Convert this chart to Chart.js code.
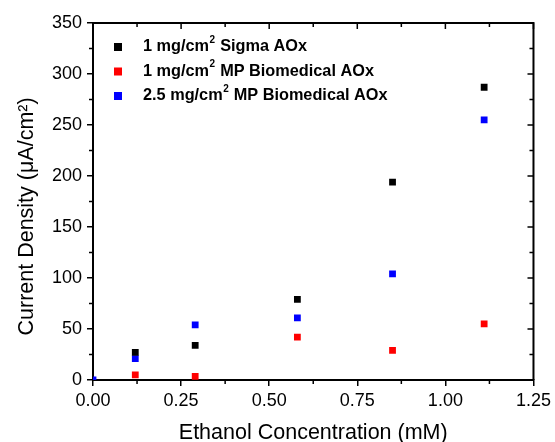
<!DOCTYPE html>
<html>
<head>
<meta charset="utf-8">
<script src="https://cdn.jsdelivr.net/npm/chart.js@4/dist/chart.umd.min.js"></script>
<style>
  html, body { margin: 0; padding: 0; background: #fff; }
  #wrap { width: 555px; height: 442px; }
</style>
</head>
<body>
<div id="wrap"><canvas id="chart"></canvas></div>
<script>
var concentrations = [0, 0.12, 0.29, 0.58, 0.85, 1.11];
var sigmaAOx = [null, 27, 34, 79, 194, 287];
var mpAOx1 = [null, 5, 3.5, 42, 29, 55];
var mpAOx25 = [0, 21, 54, 61, 104, 255];
var seriesLabels = ["1 mg/cm² Sigma AOx", "1 mg/cm² MP Biomedical AOx", "2.5 mg/cm² MP Biomedical AOx"];
var seriesColors = ["#000000", "#ff0000", "#0000ff"];
var xTicks = [0, 0.25, 0.5, 0.75, 1, 1.25];
var yTicks = [0, 50, 100, 150, 200, 250, 300, 350];

var FONT = "'Liberation Sans', Arial, sans-serif";

function toPoints(values) {
    var pts = [];
    values.forEach(function (v, i) {
        if (v !== null) pts.push({ x: concentrations[i], y: v });
    });
    return pts;
}

// minor ticks + mirrored top/right axes
var framePlugin = {
    id: "frame",
    afterDraw: function (chart) {
        var ctx = chart.ctx, a = chart.chartArea;
        var xs = chart.scales.x, ys = chart.scales.y;
        ctx.save();
        ctx.strokeStyle = "#000";
        ctx.lineWidth = 2;
        ctx.beginPath();
        ctx.moveTo(a.left, a.top); ctx.lineTo(a.right, a.top); ctx.lineTo(a.right, a.bottom);
        ctx.stroke();
        ctx.lineWidth = 1.5;
        ctx.beginPath();
        for (var i = 0; i < xTicks.length; i++) {
            var px = xs.getPixelForValue(xTicks[i]);
            ctx.moveTo(px, a.top); ctx.lineTo(px, a.top + 6);
            if (i < xTicks.length - 1) {
                var mx = xs.getPixelForValue((xTicks[i] + xTicks[i + 1]) / 2);
                ctx.moveTo(mx, a.bottom); ctx.lineTo(mx, a.bottom + 4);
                ctx.moveTo(mx, a.top); ctx.lineTo(mx, a.top + 4);
            }
        }
        for (var j = 0; j < yTicks.length; j++) {
            var py = ys.getPixelForValue(yTicks[j]);
            ctx.moveTo(a.right, py); ctx.lineTo(a.right - 6, py);
            if (j < yTicks.length - 1) {
                var my = ys.getPixelForValue((yTicks[j] + yTicks[j + 1]) / 2);
                ctx.moveTo(a.left, my); ctx.lineTo(a.left - 4, my);
                ctx.moveTo(a.right, my); ctx.lineTo(a.right - 4, my);
            }
        }
        ctx.stroke();
        ctx.restore();
    }
};

// legend inside the plot, with a raised small "2"
var legendPlugin = {
    id: "innerLegend",
    afterDraw: function (chart) {
        var ctx = chart.ctx, a = chart.chartArea;
        ctx.save();
        ctx.textBaseline = "middle";
        chart.data.datasets.forEach(function (ds, i) {
            var y = a.top + 24 + i * 24.5;
            ctx.fillStyle = ds.backgroundColor;
            ctx.fillRect(a.left + 21, y - 4, 8, 8);
            ctx.fillStyle = "#000";
            var x = a.left + 50;
            var parts = ds.label.split("²");
            parts.forEach(function (p, k) {
                ctx.font = "bold 16.3px " + FONT;
                ctx.fillText(p, x, y);
                x += ctx.measureText(p).width;
                if (k < parts.length - 1) {
                    ctx.font = "bold 10px " + FONT;
                    ctx.fillText("2", x + 0.5, y - 7);
                    x += ctx.measureText("2").width + 1;
                }
            });
        });
        ctx.restore();
    }
};

var datasets = [sigmaAOx, mpAOx1, mpAOx25].map(function (vals, i) {
    return {
        label: seriesLabels[i],
        data: toPoints(vals),
        backgroundColor: seriesColors[i],
        borderColor: seriesColors[i],
        borderWidth: 0,
        pointStyle: "rect",
        pointRadius: 4.8,
        pointHoverRadius: 4.8,
        showLine: false
    };
});

new Chart(document.getElementById("chart"), {
    type: "scatter",
    data: { datasets: datasets },
    options: {
        responsive: true,
        maintainAspectRatio: false,
        animation: false,
        layout: { padding: { left: 18, top: 23, right: 19, bottom: 0 } },
        plugins: { legend: { display: false }, tooltip: { enabled: false } },
        scales: {
            x: {
                type: "linear",
                min: 0, max: 1.25,
                afterFit: function (scale) { scale.height = 62; },
                afterBuildTicks: function (scale) { scale.ticks = xTicks.map(function (v) { return { value: v }; }); },
                ticks: {
                    color: "#000", padding: 4,
                    font: { family: FONT, size: 18 },
                    callback: function (v) { return Number(v).toFixed(2); }
                },
                grid: { drawOnChartArea: false, drawTicks: true, tickLength: 6, color: "#000", lineWidth: 1.5 },
                border: { display: true, color: "#000", width: 2 },
                title: {
                    display: true, text: "Ethanol Concentration (mM)", color: "#000",
                    font: { family: FONT, size: 21.5, lineHeight: 0.8 }, padding: 0
                }
            },
            y: {
                type: "linear",
                min: 0, max: 350,
                afterFit: function (scale) { scale.width = 75; },
                afterBuildTicks: function (scale) { scale.ticks = yTicks.map(function (v) { return { value: v }; }); },
                ticks: {
                    color: "#000", padding: 5,
                    font: { family: FONT, size: 18 }
                },
                grid: { drawOnChartArea: false, drawTicks: true, tickLength: 6, color: "#000", lineWidth: 1.5 },
                border: { display: true, color: "#000", width: 2 },
                title: {
                    display: true, text: "Current Density (μA/cm²)\u00a0\u00a0\u00a0\u00a0\u00a0", color: "#000",
                    font: { family: FONT, size: 21.5, lineHeight: 0.8 }, padding: 0
                }
            }
        }
    },
    plugins: [framePlugin, legendPlugin]
});
</script>
</body>
</html>
